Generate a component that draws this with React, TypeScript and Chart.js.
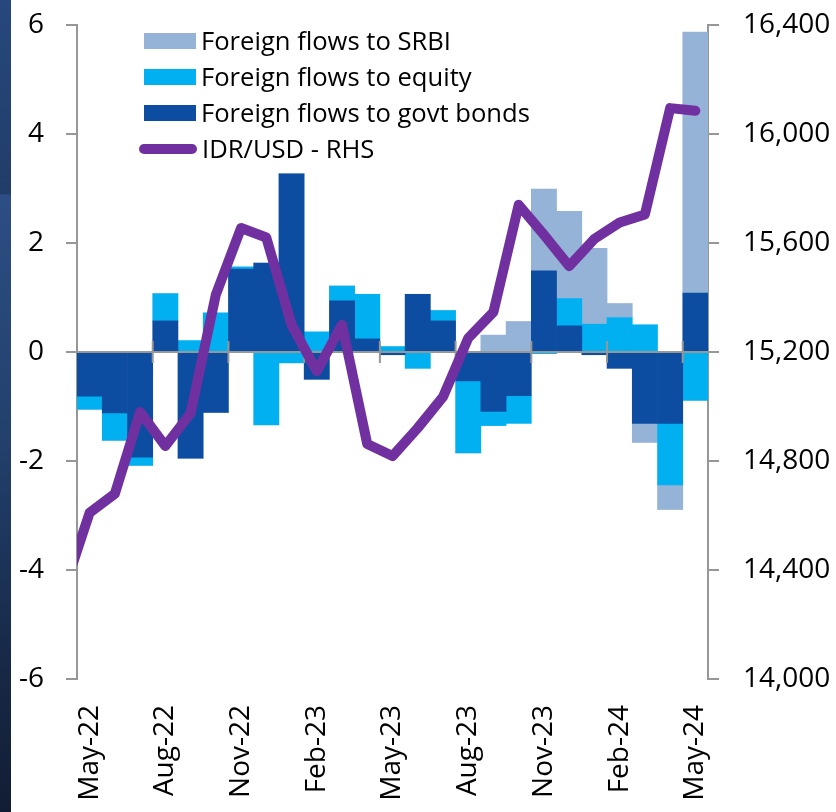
import React, { useEffect, useRef } from "react";
import { Chart, registerables } from "chart.js";

Chart.register(...registerables);

const months = [
  "May-22", "Jun-22", "Jul-22", "Aug-22", "Sep-22", "Oct-22", "Nov-22", "Dec-22",
  "Jan-23", "Feb-23", "Mar-23", "Apr-23", "May-23", "Jun-23", "Jul-23", "Aug-23",
  "Sep-23", "Oct-23", "Nov-23", "Dec-23", "Jan-24", "Feb-24", "Mar-24", "Apr-24", "May-24",
];

const govtBonds = [
  -0.81, -1.12, -1.93, 0.57, -1.95, -1.11, 1.52, 1.63, 3.27, -0.5, 0.94, 0.24, -0.05,
  1.06, 0.57, -0.53, -1.09, -0.8, 1.49, 0.48, -0.05, -0.3, -1.31, -1.31, 1.08,
];
const equity = [
  -0.24, -0.5, -0.15, 0.5, 0.21, 0.72, 0.04, -1.34, -0.2, 0.37, 0.27, 0.82, 0.1,
  -0.3, 0.19, -1.32, -0.26, -0.51, -0.03, 0.5, 0.51, 0.63, 0.5, -1.13, -0.89,
];
const srbi = [
  0, 0, 0, 0, 0, 0, 0, 0, 0, 0, 0, 0, 0, 0, 0, 0, 0.31, 0.56, 1.5, 1.6, 1.39, 0.26,
  -0.35, -0.45, 4.79,
];
// IDR/USD, starting one month before the first bar (Apr-22), which is clipped at the axis
const idrUsdPrev = 14330;
const idrUsd = [
  14610, 14680, 14980, 14855, 14975, 15410, 15655, 15620, 15300, 15130, 15300, 14862,
  14818, 14921, 15035, 15251, 15347, 15740, 15630, 15515, 15615, 15675, 15705, 16095, 16085,
];

const leftTicks = { min: -6, max: 6, step: 2 };
const rightTicks = { min: 14000, max: 16400, step: 400 };

const COL_SRBI = "#95b3d7";
const COL_EQ = "#00b0f0";
const COL_GOVT = "#0c4da2";
const COL_LINE = "#7030a0";
const AXIS = "#979797";
const FONT = "'Open Sans', 'Noto Sans', sans-serif";

const legendItems = [
  { label: "Foreign flows to SRBI", color: COL_SRBI, kind: "box" },
  { label: "Foreign flows to equity", color: COL_EQ, kind: "box" },
  { label: "Foreign flows to govt bonds", color: COL_GOVT, kind: "box" },
  { label: "IDR/USD - RHS", color: COL_LINE, kind: "line" },
];

const zeroLinePlugin = {
  id: "zeroLine",
  beforeDatasetDraw(chart: any, args: any) {
    if (args.meta.type !== "line") return;
    const { ctx, chartArea, scales } = chart;
    const y0 = scales.y.getPixelForValue(0);
    ctx.save();
    ctx.strokeStyle = AXIS;
    ctx.lineWidth = 2;
    ctx.beginPath();
    ctx.moveTo(chartArea.left, y0);
    ctx.lineTo(chartArea.right, y0);
    for (let k = 3; k < months.length; k += 3) {
      const x = scales.xl.getPixelForValue(k - 0.5);
      ctx.moveTo(x, y0 - 11);
      ctx.lineTo(x, y0 + 11);
    }
    ctx.stroke();
    ctx.restore();
  },
};

export default function App() {
  const ref = useRef<HTMLCanvasElement | null>(null);

  useEffect(() => {
    if (!ref.current) return;
    const lineData = [{ x: -1, y: idrUsdPrev }].concat(
      idrUsd.map((v, i) => ({ x: i, y: v }))
    );
    const chart = new Chart(ref.current, {
      type: "bar",
      data: {
        labels: months,
        datasets: [
          {
            type: "line",
            label: "IDR/USD - RHS",
            data: lineData as any,
            xAxisID: "xl",
            yAxisID: "y2",
            borderColor: COL_LINE,
            borderWidth: 10,
            borderJoinStyle: "round",
            borderCapStyle: "round",
            pointRadius: 0,
            tension: 0,
            clip: 0,
            order: 0,
          } as any,
          {
            label: "Foreign flows to govt bonds",
            data: govtBonds,
            backgroundColor: COL_GOVT,
            xAxisID: "x",
            yAxisID: "y",
            stack: "flows",
            order: 1,
          },
          {
            label: "Foreign flows to equity",
            data: equity,
            backgroundColor: COL_EQ,
            xAxisID: "x",
            yAxisID: "y",
            stack: "flows",
            order: 1,
          },
          {
            label: "Foreign flows to SRBI",
            data: srbi,
            backgroundColor: COL_SRBI,
            xAxisID: "x",
            yAxisID: "y",
            stack: "flows",
            order: 1,
          },
        ],
      },
      options: {
        animation: false,
        responsive: false,
        devicePixelRatio: 1,
        layout: { padding: { top: 25, left: 0, right: 0, bottom: 0 } },
        datasets: {
          bar: { barPercentage: 1, categoryPercentage: 1, borderWidth: 0, grouped: false },
        },
        plugins: { legend: { display: false }, tooltip: { enabled: false } },
        scales: {
          x: {
            type: "category",
            stacked: true,
            offset: true,
            grid: { display: false, drawTicks: false },
            border: { display: false },
            ticks: {
              autoSkip: false,
              maxRotation: 90,
              minRotation: 90,
              padding: 26,
              color: "#000",
              font: { family: FONT, size: 28 },
              callback: (_v: any, i: number) => (i % 3 === 0 ? months[i] : ""),
            },
            afterFit: (s: any) => {
              s.height = 133;
              s.paddingLeft = 0;
              s.paddingRight = 0;
            },
          },
          xl: {
            type: "linear",
            display: false,
            offset: false,
            grid: { offset: false },
            min: -0.5,
            max: months.length - 0.5,
          },
          y: {
            position: "left",
            stacked: true,
            min: leftTicks.min,
            max: leftTicks.max,
            ticks: {
              stepSize: leftTicks.step,
              padding: 22,
              color: "#000",
              font: { family: FONT, size: 28 },
            },
            grid: { drawOnChartArea: false, tickLength: 11, color: AXIS, lineWidth: 2 },
            border: { color: AXIS, width: 2 },
            afterFit: (s: any) => {
              s.width = 77;
              s.paddingTop = 0;
              s.paddingBottom = 0;
            },
          },
          y2: {
            position: "right",
            min: rightTicks.min,
            max: rightTicks.max,
            ticks: {
              stepSize: rightTicks.step,
              padding: 24,
              color: "#000",
              font: { family: FONT, size: 28 },
              callback: (v: any) => Number(v).toLocaleString("en-US"),
            },
            grid: { drawOnChartArea: false, tickLength: 11, color: AXIS, lineWidth: 2 },
            border: { color: AXIS, width: 2 },
            afterFit: (s: any) => {
              s.width = 128;
              s.paddingTop = 0;
              s.paddingBottom = 0;
            },
          },
        },
      } as any,
      plugins: [zeroLinePlugin],
    });
    return () => chart.destroy();
  }, []);

  return (
    <div
      style={{
        position: "absolute",
        left: 0,
        top: 0,
        width: 836,
        height: 812,
        background: "#fff",
        overflow: "hidden",
      }}
    >
      <div
        style={{
          position: "absolute",
          left: 0,
          top: 0,
          width: 11,
          height: 812,
          background:
            "linear-gradient(to bottom, #27487c 0%, #213d69 23.9%, #2d4e84 24%, #22406b 55%, #182a49 80%, #121d33 100%)",
        }}
      />
      <canvas
        ref={ref}
        width={836}
        height={812}
        style={{ position: "absolute", left: 0, top: 0, width: 836, height: 812 }}
      />
      {legendItems.map((it, i) => (
        <div
          key={it.label}
          style={{
            position: "absolute",
            left: 139,
            top: 41 + i * 36 - 18,
            height: 36,
            display: "flex",
            alignItems: "center",
            fontFamily: FONT,
            fontSize: 25.6,
            color: "#000",
            whiteSpace: "nowrap",
            background: "transparent",
          }}
        >
          {it.kind === "box" ? (
            <div style={{ width: 52, height: 16, marginLeft: 5, background: it.color }} />
          ) : (
            <div
              style={{ width: 58, height: 10, borderRadius: 5, background: it.color }}
            />
          )}
          <span style={{ marginLeft: 5, lineHeight: "36px" }}>{it.label}</span>
        </div>
      ))}
    </div>
  );
}
